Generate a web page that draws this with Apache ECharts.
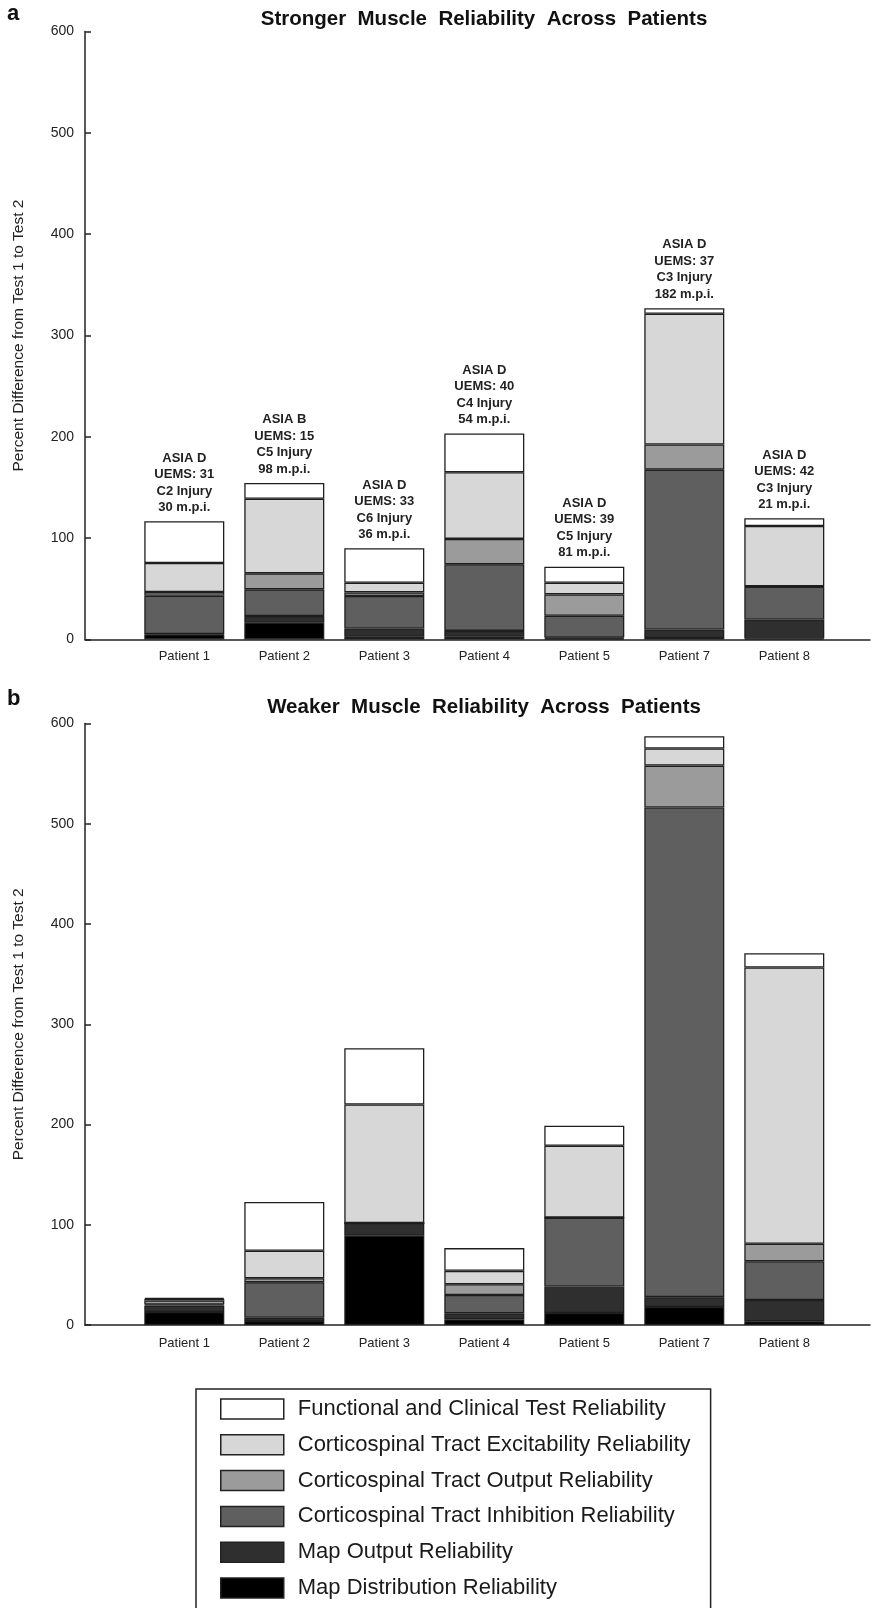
<!DOCTYPE html>
<html>
<head>
<meta charset="utf-8">
<script src="https://cdn.jsdelivr.net/npm/echarts@6/dist/echarts.min.js"></script>
<style>
  html, body { margin: 0; padding: 0; background: #fff; }
  #main { width: 873px; height: 1608px; }
</style>
</head>
<body>
<div id="main"></div>
<script>
// patients on the x axis
var categories = ['Patient 1', 'Patient 2', 'Patient 3', 'Patient 4', 'Patient 5', 'Patient 7', 'Patient 8'];
var yTicks = [0, 100, 200, 300, 400, 500, 600];

// clinical notes above the bars of panel a
var asiaGrade = ['ASIA D', 'ASIA B', 'ASIA D', 'ASIA D', 'ASIA D', 'ASIA D', 'ASIA D'];
var uems = [31, 15, 33, 40, 39, 37, 42];
var injuryLevel = ['C2', 'C5', 'C6', 'C4', 'C5', 'C3', 'C3'];
var mpi = [30, 98, 36, 54, 81, 182, 21];

// series names, legend order (top to bottom)
var names = [
    'Functional and Clinical Test Reliability',
    'Corticospinal Tract Excitability Reliability',
    'Corticospinal Tract Output Reliability',
    'Corticospinal Tract Inhibition Reliability',
    'Map Output Reliability',
    'Map Distribution Reliability'
];

// a: stronger muscle
var strongFunc   = [41.2, 15.6, 34.1, 38.3, 15.9, 5.6, 7.6];
var strongExcit  = [28.7, 73.6, 9.5, 65.7, 11.5, 128.9, 59.4];
var strongOutput = [3.6, 15.8, 3.6, 25.0, 21.1, 24.9, 0.5];
var strongInhib  = [37.7, 26.4, 32.0, 65.8, 21.4, 157.7, 32.3];
var strongMapOut = [0.5, 6.6, 8.3, 5.9, 1.0, 8.4, 18.8];
var strongMapDist = [5.0, 16.5, 2.6, 2.6, 1.0, 1.5, 1.0];

// b: weaker muscle
var weakFunc   = [1.0, 48.7, 56.0, 22.7, 19.9, 12.2, 14.2];
var weakExcit  = [1.5, 27.3, 118.3, 13.3, 71.7, 17.1, 275.5];
var weakOutput = [4.0, 4.0, 0, 10.7, 0, 41.8, 17.5];
var weakInhib  = [1.0, 35.4, 0, 18.3, 68.7, 488.4, 38.7];
var weakMapOut = [6.5, 3.3, 12.7, 6.0, 26.4, 9.8, 21.1];
var weakMapDist = [13.0, 4.0, 89.0, 5.7, 12.0, 18.0, 3.8];

var colors = ['#ffffff', '#d7d7d7', '#9b9b9b', '#5f5f5f', '#2f2f2f', '#000000'];
var font = 'Liberation Sans, Arial, sans-serif';

var chart = echarts.init(document.getElementById('main'));

// stacked from the bottom: distribution first, functional last
function buildSeries(sets, axisIdx, withNotes) {
    var out = [];
    for (var k = sets.length - 1; k >= 0; k--) {
        var s = {
            name: names[k],
            type: 'bar',
            stack: 'g' + axisIdx,
            xAxisIndex: axisIdx,
            yAxisIndex: axisIdx,
            barWidth: 80,
            itemStyle: { color: colors[k], borderColor: '#1e1e1e', borderWidth: 1.3 },
            emphasis: { disabled: true },
            data: sets[k]
        };
        if (withNotes && k === 0) {
            s.label = {
                show: true,
                position: 'top',
                distance: 5.5,
                fontFamily: font,
                fontWeight: 'bold',
                fontSize: 13,
                lineHeight: 16.5,
                color: '#222',
                formatter: function (p) {
                    var i = p.dataIndex;
                    return asiaGrade[i] + '\nUEMS: ' + uems[i] + '\n' + injuryLevel[i] + ' Injury\n' + mpi[i] + ' m.p.i.';
                }
            };
        }
        out.push(s);
    }
    return out;
}

// frame axes span the full plot width; bar axes sit inside them
function frameX(gridIdx) {
    return {
        type: 'value', gridIndex: gridIdx, min: 0, max: 1,
        splitLine: { show: false }, axisTick: { show: false }, axisLabel: { show: false },
        axisLine: { show: true, lineStyle: { color: '#222', width: 1.5 } }
    };
}
function barX(gridIdx, margin) {
    return {
        type: 'category', gridIndex: gridIdx, data: categories,
        axisLine: { show: false }, axisTick: { show: false },
        axisLabel: { margin: margin, fontSize: 13, color: '#222', fontFamily: font }
    };
}
function frameY(gridIdx) {
    return {
        type: 'value', gridIndex: gridIdx,
        min: yTicks[0], max: yTicks[yTicks.length - 1], interval: 100,
        name: 'Percent Difference from Test 1 to Test 2',
        nameLocation: 'middle',
        nameGap: 58,
        nameTextStyle: { fontSize: 15.5, color: '#222', fontFamily: font },
        splitLine: { show: false },
        axisLine: { show: true, lineStyle: { color: '#222', width: 1.5 } },
        axisTick: { show: true, inside: true, length: 6, lineStyle: { color: '#222', width: 1.5 } },
        axisLabel: { margin: 11, fontSize: 14, color: '#222', fontFamily: font }
    };
}
function barY(gridIdx) {
    return { type: 'value', gridIndex: gridIdx, show: false, min: yTicks[0], max: yTicks[yTicks.length - 1] };
}

var titleFont = { fontSize: 20.5, fontWeight: 'bold', color: '#111', fontFamily: font };

var option = {
    animation: false,
    title: [
        { text: 'Stronger  Muscle  Reliability  Across  Patients', left: 479, top: 4, textAlign: 'center', textStyle: titleFont },
        { text: 'Weaker  Muscle  Reliability  Across  Patients', left: 479, top: 692, textAlign: 'center', textStyle: titleFont },
        { text: 'a', left: 2, top: -2, textStyle: { fontSize: 22, fontWeight: 'bold', color: '#111', fontFamily: font } },
        { text: 'b', left: 2, top: 683, textStyle: { fontSize: 22, fontWeight: 'bold', color: '#111', fontFamily: font } }
    ],
    legend: {
        data: names,
        orient: 'vertical',
        left: 196,
        top: 1389,
        height: 240,
        icon: 'rect',
        itemWidth: 63,
        itemHeight: 20,
        itemGap: 13.8,
        padding: [9, 20, 16, 24],
        borderColor: '#222',
        borderWidth: 1.5,
        selectedMode: false,
        itemStyle: { borderColor: '#222', borderWidth: 1.5 },
        textStyle: { fontSize: 22, lineHeight: 22, color: '#1a1a1a', padding: [0, 0, 0, 9], fontFamily: font }
    },
    grid: [
        { left: 85, width: 785, top: 31.5, height: 608 },
        { left: 134.3, width: 700, top: 31.5, height: 608 },
        { left: 85, width: 785, top: 723.5, height: 601.5 },
        { left: 134.3, width: 700, top: 723.5, height: 601.5 }
    ],
    xAxis: [frameX(0), barX(1, 10), frameX(2), barX(3, 12)],
    yAxis: [frameY(0), barY(1), frameY(2), barY(3)],
    series: buildSeries([strongFunc, strongExcit, strongOutput, strongInhib, strongMapOut, strongMapDist], 1, true)
        .concat(buildSeries([weakFunc, weakExcit, weakOutput, weakInhib, weakMapOut, weakMapDist], 3, false))
};

chart.setOption(option);
</script>
</body>
</html>
